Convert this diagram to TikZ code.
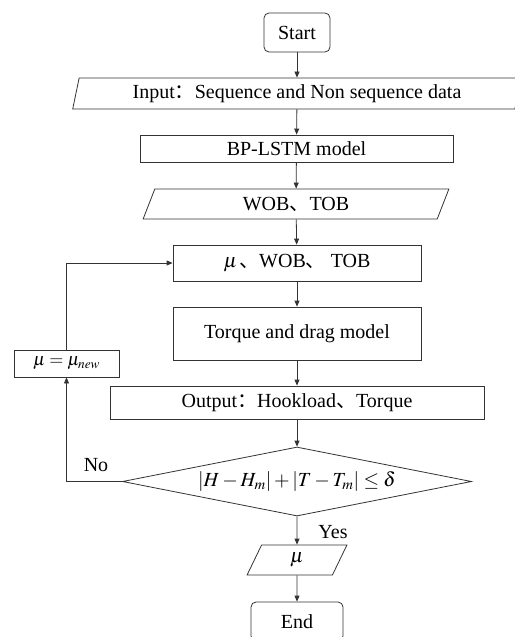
\documentclass[tikz,border=0pt]{standalone}
\usepackage{amsmath}
\usepackage{mathptmx}
\usepackage{fontspec}
\setmainfont{Liberation Serif}
\newfontfamily\cjk{Noto Sans CJK SC}
\usetikzlibrary{shapes.geometric, arrows.meta}
\newcommand{\zh}[1]{{\cjk #1}}

\begin{document}
\begin{tikzpicture}[
          x=1pt, y=-1pt,
          line width=0.8pt, draw=black!80,
          font=\fontsize{20}{24}\selectfont,
          proc/.style={rectangle, draw=black!80, inner sep=0pt,
                       text centered},
          term/.style={rectangle, rounded corners=5pt, draw=black!80,
                       inner sep=0pt, text centered},
          io/.style={trapezium, trapezium stretches=true,
                     trapezium left angle=75, trapezium right angle=105,
                     draw=black!80, inner sep=0pt, text centered},
          cond/.style={diamond, aspect=5, draw=black!80, inner sep=0pt,
                       text centered},
          flow/.style={-{Triangle[length=6pt, width=5pt]}, draw=black!80}
        ]
          \useasboundingbox (0,0) rectangle (514,637);
          \node[term] (start) at (297,32.5)  [minimum width=66pt, minimum height=39pt] {Start};
          \node[io]   (input) at (297,93.5)  [minimum width=450pt, minimum height=31pt]
               {Input\zh{：}Sequence and Non sequence data};
          \node[proc] (bp)    at (296.5,148.5) [minimum width=313pt, minimum height=27pt] {BP-LSTM model};
          \node[io]   (wob)   at (296,204)   [minimum width=306pt, minimum height=30pt,
               trapezium left angle=73, trapezium right angle=107] {WOB\zh{、}TOB};
          \node[proc] (par)   at (297,263)   [minimum width=248pt, minimum height=36pt]
               {$\mu$\kern2pt\zh{、}WOB\zh{、} TOB};
          \node[proc] (td)    at (297,333.5) [minimum width=248pt, minimum height=53pt] {Torque and drag model};
          \node[proc] (out)   at (297,402.5) [minimum width=374pt, minimum height=33pt]
               {Output\zh{：}Hookload\zh{、}Torque};
          \node[cond] (dec)   at (297,481.5) [minimum width=349pt, minimum height=69pt]
               {\makebox[0pt]{$\left|H-H_m\right|+\left|T-T_m\right|\le\delta$}};
          \node[proc] (new)   at (66.5,363.5) [minimum width=105pt, minimum height=27pt,
               font=\fontsize{18}{22}\selectfont] {$\mu=\mu_{new}$};
          \node[io]   (mu)    at (297,560)   [minimum width=100pt, minimum height=30pt,
               trapezium left angle=79, trapezium right angle=101] {$\mu$};
          \node[term] (end)   at (297,621.5) [minimum width=92pt, minimum height=39pt] {End};
          \node (no)  at (96,465)  {No};
          \node (yes) at (333,532) {Yes};
          \draw[flow] (start) -- (input);
          \draw[flow] (input) -- (bp);
          \draw[flow] (bp) -- (wob);
          \draw[flow] (wob) -- (par);
          \draw[flow] (par) -- (td);
          \draw[flow] (td) -- (out);
          \draw[flow] (out) -- (dec);
          \draw[flow] (dec) -- (mu);
          \draw[flow] (mu) -- (end);
          \draw[flow] (dec.west) -| (new.south);
          \draw[flow] (new.north) |- (par.west);
        \end{tikzpicture}
\end{document}
